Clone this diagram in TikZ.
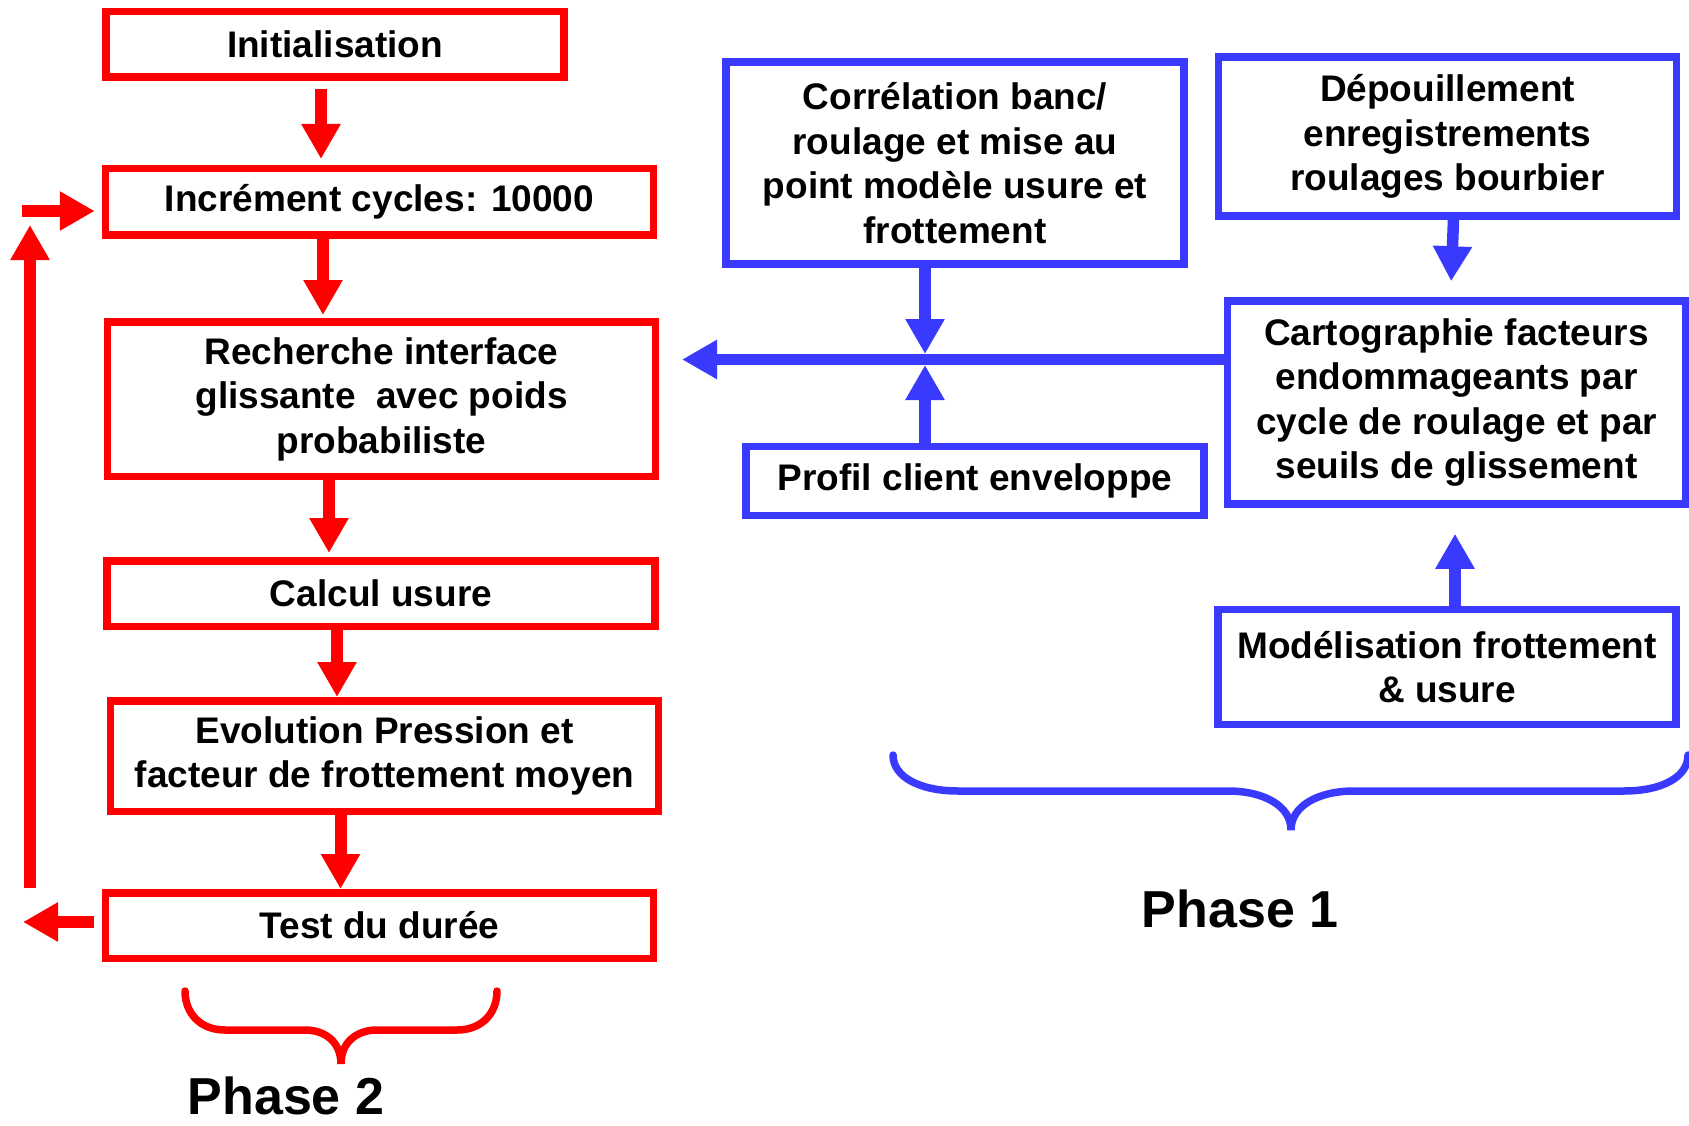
\documentclass[tikz,border=0pt]{standalone}
\usepackage{fontspec}
\setmainfont{Liberation Sans}
\usetikzlibrary{arrows.meta,positioning,calc}
\definecolor{phaseR}{RGB}{255,0,0}
\definecolor{phaseB}{RGB}{58,58,255}

\begin{document}
\begin{tikzpicture}[x=1pt, y=-1pt,
  font=\fontsize{37}{44.5}\selectfont\bfseries,
  >={Triangle[length=35pt, width=37pt]},
  box/.style={draw, line width=7.5pt, inner sep=0pt, align=center},
  rbox/.style={box, draw=phaseR, minimum width=548pt},
  bbox/.style={box, draw=phaseB, minimum width=458pt},
  rarr/.style={->, phaseR, line width=12pt},
  barr/.style={->, phaseB, line width=11.5pt},
  brace/.style={line width=7.5pt, line cap=round},
  phase/.style={font=\fontsize{52}{60}\selectfont\bfseries, anchor=base}]
  \useasboundingbox (0,0) rectangle (1689,1126);

  % phase 2: simulation loop
  \node[rbox, minimum width=458pt, minimum height=65.5pt] (init) at (335,44.5) {Initialisation};
  \node[rbox, minimum height=66.5pt] (incr) at (379.5,202) {Incrément cycles: 10000};
  \node[rbox, minimum height=154.5pt] (rech) at (381.5,399) {Recherche interface\\glissante\ \ avec poids\\probabiliste};
  \node[rbox, minimum height=65.5pt] (calc) at (381,593.5) {Calcul usure};
  \node[rbox, minimum height=110.5pt] (evol) at (384.5,756) {Evolution Pression et\\facteur de frottement moyen};
  \node[rbox, minimum height=65.5pt] (test) at (379.5,925.5) {Test du durée};

  % phase 1: inputs
  \node[bbox, minimum height=202pt] (corr) at (955,163) {Corrélation banc/\\roulage et mise au\\point modèle usure et\\frottement};
  \node[bbox, minimum height=159pt] (depo) at (1447.5,136.5) {Dépouillement\\enregistrements\\roulages bourbier};
  \node[bbox, minimum height=203pt] (carto) at (1456.5,402.5) {Cartographie facteurs\\endommageants par\\cycle de roulage et par\\seuils de glissement};
  \node[bbox, minimum height=69pt] (prof) at (975,481) {Profil client enveloppe};
  \node[bbox, minimum height=115pt] (mode) at (1447,667) {Modélisation frottement\\\& usure};

  \coordinate (jct) at (925,359.5);
  \coordinate (out) at (682,359.5);
  \coordinate (loopL) at (23,922);
  \coordinate (loopB) at (30,888);
  \coordinate (loopT) at (30,225);
  \coordinate (loopI) at (22,211);

  % red chain
  \draw[rarr, shorten <=8pt, shorten >=6pt] ([xshift=-14pt]init.south) -- ([xshift=-14pt]init.south |- incr.north);
  \draw[rarr, shorten >=3pt] ([xshift=-56.5pt]incr.south) -- ([xshift=-56.5pt]incr.south |- rech.north);
  \draw[rarr, shorten >=4pt] ([xshift=-52.5pt]rech.south) -- ([xshift=-52.5pt]rech.south |- calc.north);
  \draw[rarr] ([xshift=-44pt]calc.south) -- ([xshift=-44pt]calc.south |- evol.north);
  \draw[rarr] ([xshift=-44pt]evol.south) -- ([xshift=-44pt]evol.south |- test.north);

  % return loop
  \draw[rarr, shorten <=8pt] (test.west |- loopL) -- (loopL);
  \draw[rarr] (loopB) -- (loopT);
  \draw[rarr, shorten >=7pt] (loopI) -- (loopI -| incr.west);

  % blue inputs
  \draw[barr] (carto.west |- jct) -- (out);
  \draw[barr, shorten >=5.5pt] (corr.south -| jct) -- (jct);
  \draw[barr, shorten >=5.5pt] (prof.north -| jct) -- (jct);
  \draw[barr, shorten >=16pt] ([xshift=6pt]depo.south) -- ([xshift=-6pt]carto.north);
  \draw[barr, shorten >=26pt] ([xshift=8pt]mode.north) -- ([xshift=-1.5pt]carto.south);

  % braces
  \draw[brace, phaseR] (185,991) .. controls (185,1013) and (200,1030) .. (225,1030) -- (305,1030)
    .. controls (325,1030) and (341,1042) .. (341,1064) .. controls (341,1042) and (357,1030) .. (377,1030)
    -- (457,1030) .. controls (482,1030) and (497,1013) .. (497,991);
  \draw[brace, phaseB] (893,755) .. controls (893,777) and (920,791) .. (958,791) -- (1228,791)
    .. controls (1264,791) and (1291,806) .. (1291,830) .. controls (1291,806) and (1318,791) .. (1354,791)
    -- (1624,791) .. controls (1662,791) and (1688,777) .. (1688,755);

  \node[phase] (ph2) at (286,1114) {Phase 2};
  \node[phase] (ph1) at (1240,927) {Phase 1};
\end{tikzpicture}
\end{document}
